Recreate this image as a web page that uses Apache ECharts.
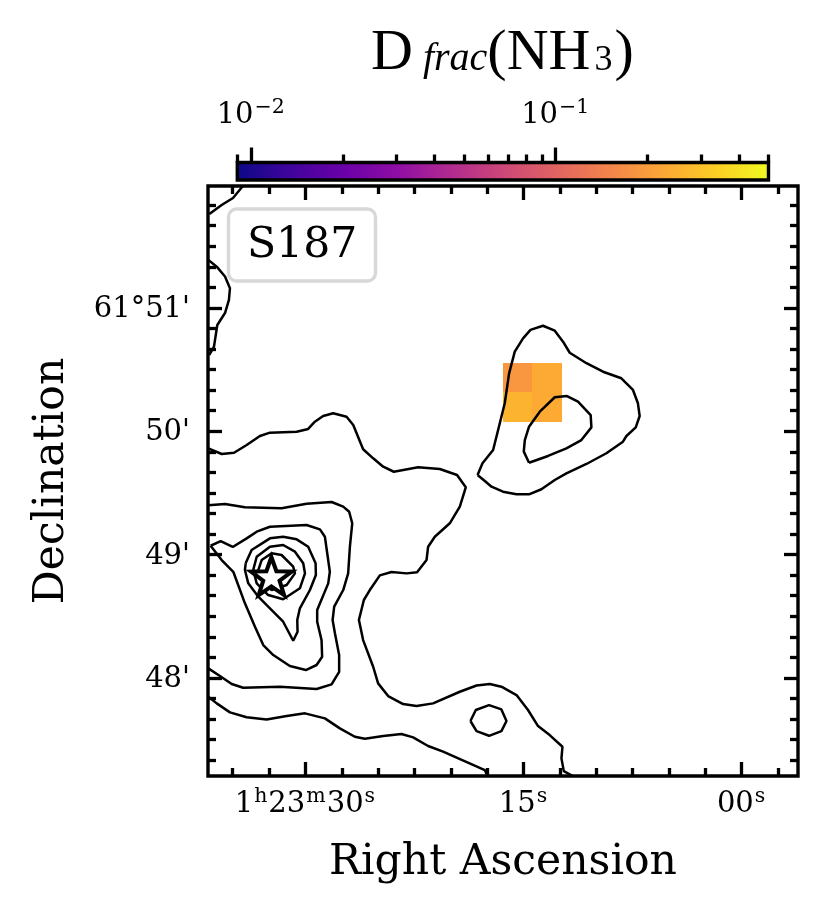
<!DOCTYPE html>
<html>
<head>
<meta charset="utf-8">
<title>S187</title>
<script src="https://cdn.jsdelivr.net/npm/echarts@6/dist/echarts.min.js"></script>
<style>html,body{margin:0;padding:0;background:#fff}#chart{width:829px;height:915px}</style>
</head>
<body>
<div id="chart"></div>
<script>
// axis ranges: right ascension in seconds past 1h23m, declination in arcmin past 61 deg
var raRange = [-3.88, 36.7];
var decRange = [47.205, 51.989];
var raMajor = [30, 15, 0];
var raMinor = [35, 32.5, 27.5, 25, 22.5, 20, 17.5, 12.5, 10, 7.5, 5, 2.5, -2.5];
var raLabels = ["{b|1}{s|h}{b|23}{s|m}{b|30}{s|s}", "{b|15}{s|s}", "{b|00}{s|s}"];
var decMajor = [51, 50, 49, 48];
var decMinor = [51.833, 51.667, 51.5, 51.333, 51.167, 50.833, 50.667, 50.5, 50.333, 50.167, 49.833, 49.667, 49.5, 49.333, 49.167,
    48.833, 48.667, 48.5, 48.333, 48.167, 47.833, 47.667, 47.5, 47.333];
var decLabels = ["61°51'", "50'", "49'", "48'"];

// colour bar
var cbarRange = [0.009, 0.5];
var cbarMajor = [0.01, 0.1];
var cbarMinor = [0.009, 0.02, 0.03, 0.04, 0.05, 0.06, 0.07, 0.08, 0.09, 0.2, 0.3, 0.4, 0.5];
var cbarLabels = ["{b|10}{s|−2}", "{b|10}{s|−1}"];
var plasma = ["#0d0887", "#41049d", "#6a00a8", "#8f0da4", "#b12a90", "#cc4778", "#e16462", "#f2844b", "#fca636", "#fcce25", "#f0f921"];

// Dfrac(NH3) pixels
var cellRa = [15.42, 13.37, 15.42, 13.37];
var cellDec = [50.436, 50.436, 50.197, 50.197];
var cellVal = [0.187, 0.232, 0.255, 0.232];
var cellW = 2.04, cellH = 0.24;

// contours, [ra, dec]
var contourA = [[18.16,49.646],[17.82,49.741],[17.09,49.848],[16.63,50.065],[16.29,50.227],[15.99,50.47],[15.6,50.646],[15.03,50.754],[14.52,50.822],[13.66,50.856],[12.85,50.816],[12.28,50.727],[11.82,50.637],[10.67,50.552],[9.53,50.483],[8.27,50.43],[7.47,50.335],[7.13,50.227],[7.01,50.124],[7.28,50.032],[7.92,49.962],[8.16,49.916],[9.3,49.822],[10.67,49.735],[12.05,49.659],[12.85,49.605],[13.77,49.53],[14.62,49.489],[15.48,49.489],[16.41,49.51],[17.2,49.551],[17.66,49.597],[18.16,49.646]];
var contourB = [[14.62,49.745],[14.98,49.835],[14.91,49.929],[14.62,50.037],[13.88,50.159],[12.85,50.276],[12.01,50.286],[11.25,50.24],[10.38,50.132],[10.33,50.032],[11.02,49.929],[12.05,49.862],[13.31,49.8],[14.62,49.745]];
var contourC = [[36.68,49.862],[35.76,49.816],[34.91,49.826],[34.04,49.889],[33.13,49.962],[32.44,49.989],[30.6,49.997],[29.81,50.019],[29.35,50.078],[28.78,50.124],[28.09,50.146],[27.17,50.118],[26.71,50.051],[26.03,49.854],[25.34,49.781],[24.65,49.713],[23.92,49.672],[22.25,49.708],[20.76,49.694],[19.57,49.646],[18.97,49.546],[19.38,49.389],[20.07,49.254],[21.1,49.145],[21.56,49.064],[21.67,48.956],[22.32,48.857],[23.04,48.848],[24.08,48.859],[24.88,48.832],[25.57,48.713],[25.98,48.632],[26.32,48.47],[26.03,48.307],[25.34,48.091],[25,47.956],[24.31,47.853],[23.28,47.788],[22.36,47.772],[21.22,47.794],[19.38,47.888],[18.23,47.939],[17.32,47.951],[16.52,47.929],[15.48,47.861],[14.69,47.74],[14,47.61],[13.2,47.537],[12.32,47.442],[12.39,47.348],[12.23,47.245],[11.61,47.205]];
var contourD = [[36.68,47.848],[36.1,47.794],[35.19,47.721],[34.04,47.681],[32.67,47.664],[31.29,47.691],[30.03,47.713],[28.66,47.672],[27.63,47.591],[26.6,47.523],[25.91,47.507],[24.65,47.529],[23.39,47.545],[22.59,47.518],[21.56,47.448],[20.53,47.402],[17.66,47.253],[17.5,47.21]];
var contourE = [[36.68,48.078],[35.88,48.016],[35.07,47.951],[34.28,47.921],[31.75,47.929],[29.23,47.91],[28.2,47.948],[27.68,48.05],[27.68,48.186],[27.97,48.362],[28.13,48.47],[28.02,48.578],[27.4,48.713],[27.06,48.848],[26.94,49.064],[26.78,49.254],[26.99,49.348],[27.4,49.389],[28.2,49.427],[29.92,49.413],[31.64,49.376],[34.16,49.384],[35.53,49.41],[36.68,49.4]];
var contourF = [[36.52,49.072],[35.83,49.11],[35,49.062],[34.04,49.132],[33.35,49.186],[32.44,49.226],[29.92,49.24],[29,49.205],[28.66,49.145],[28.32,48.861],[28.43,48.767],[29.19,48.551],[29.19,48.456],[28.89,48.307],[28.85,48.172],[29.23,48.105],[29.97,48.064],[31.07,48.097],[32.21,48.186],[32.9,48.267],[33.47,48.415],[34.16,48.605],[34.96,48.861],[35.76,48.956],[36.52,49.072]];
var contourG = [[34.11,48.93],[33.7,49.037],[32.44,49.132],[31.53,49.145],[30.6,49.124],[29.81,49.064],[29.3,48.93],[29.28,48.835],[29.69,48.713],[30.38,48.565],[30.56,48.47],[30.54,48.375],[30.84,48.302],[31.53,48.456],[32.44,48.565],[33.24,48.659],[33.93,48.767],[34.16,48.875],[34.11,48.93]];
var contourH = [[33.59,48.875],[33.35,48.983],[32.44,49.064],[31.53,49.078],[30.72,49.024],[30.15,48.93],[30.03,48.848],[30.38,48.727],[31.53,48.638],[32.56,48.672],[33.35,48.767],[33.59,48.875]];
var contourI = [[33.24,48.875],[33.01,48.956],[32.32,49.011],[31.64,48.997],[30.84,48.902],[30.72,48.848],[31.29,48.754],[32.32,48.713],[33.01,48.794],[33.24,48.875]];
var contourJ = [[18.65,47.651],[18.28,47.74],[17.37,47.78],[16.52,47.745],[16.17,47.651],[16.52,47.569],[17.37,47.531],[18.23,47.569],[18.65,47.651]];
var contourK = [[34.3,51.989],[34.98,51.892],[35.76,51.835],[36.61,51.762]];
var contourL = [[36.68,51.39],[36.1,51.335],[35.53,51.255],[35.19,51.16],[35.26,51.065],[35.53,50.959],[36.06,50.862],[36.29,50.686],[36.61,50.619]];
var contours = [contourA, contourB, contourC, contourD, contourE, contourF, contourG, contourH, contourI, contourJ, contourK, contourL];
var star = [[32.34, 48.826]];

var serif = "DejaVu Serif";
var mathSerif = "Liberation Serif";
var chart = echarts.init(document.getElementById("chart"));

function hexRgb(h) { return [parseInt(h.substr(1, 2), 16), parseInt(h.substr(3, 2), 16), parseInt(h.substr(5, 2), 16)]; }
function plasmaColor(v) {
    var t = (Math.log10(v) - Math.log10(cbarRange[0])) / (Math.log10(cbarRange[1]) - Math.log10(cbarRange[0]));
    var p = t * (plasma.length - 1), i = Math.min(Math.floor(p), plasma.length - 2), f = p - i;
    var a = hexRgb(plasma[i]), b = hexRgb(plasma[i + 1]);
    return "rgb(" + [0, 1, 2].map(function (k) { return Math.round(a[k] + (b[k] - a[k]) * f); }).join(",") + ")";
}

var tickRich = {
    b: { fontFamily: serif, fontSize: 29, color: "#000", lineHeight: 36, verticalAlign: "middle" },
    s: { fontFamily: serif, fontSize: 20.5, color: "#000", lineHeight: 20, verticalAlign: "top", padding: [0, 1, 0, 1] },
};

// one axis drawing only ticks (and labels when given) at custom values
function tickAxis(o) {
    var ax = {
        type: o.type || "value", gridIndex: o.grid || 0, position: o.pos, min: o.range[0], max: o.range[1], inverse: !!o.inverse,
        axisLine: { show: !1, onZero: !1 }, splitLine: { show: !1 },
        axisTick: { show: !!o.vals, inside: o.inside !== !1, length: o.len, customValues: o.vals, lineStyle: { color: "#000", width: 3.3 } },
        axisLabel: { show: !1 },
    };
    if (o.labels) {
        ax.axisLabel = {
            show: !0, margin: o.margin, customValues: o.vals, hideOverlap: !1, showMinLabel: !0, showMaxLabel: !0,
            padding: o.labelPad || 0,
            formatter: function (v) { return o.labels[o.vals.indexOf(v)]; },
            fontFamily: serif, fontSize: 29, color: "#000", rich: tickRich,
        };
    }
    if (o.name) {
        ax.name = o.name; ax.nameLocation = "middle"; ax.nameGap = o.nameGap;
        ax.nameTextStyle = { fontFamily: serif, fontSize: 42.5, color: "#000" };
    }
    return ax;
}

var series = [
    {
        type: "custom", coordinateSystem: "cartesian2d", xAxisIndex: 0, yAxisIndex: 0, z: 1,
        data: cellRa.map(function (r, i) { return [r, cellDec[i], cellVal[i]]; }),
        renderItem: function (params, api) {
            var a = api.coord([api.value(0) + cellW / 2, api.value(1) + cellH / 2]);
            var b = api.coord([api.value(0) - cellW / 2, api.value(1) - cellH / 2]);
            var x = Math.round(a[0]), y = Math.round(a[1]);
            return { type: "rect", shape: { x: x, y: y, width: Math.round(b[0]) - x, height: Math.round(b[1]) - y }, style: { fill: plasmaColor(api.value(2)) } };
        },
    },
    {
        type: "custom", coordinateSystem: "cartesian2d", xAxisIndex: 4, yAxisIndex: 4, z: 1,
        data: [[cbarRange[0], 0, cbarRange[1], 1]],
        encode: { x: [0, 2], y: [1, 3] },
        renderItem: function (params, api) {
            var a = api.coord([api.value(0), api.value(3)]);
            var b = api.coord([api.value(2), api.value(1)]);
            var stops = plasma.map(function (c, i) { return { offset: i / (plasma.length - 1), color: c }; });
            return { type: "rect", shape: { x: a[0], y: a[1], width: b[0] - a[0], height: b[1] - a[1] }, style: { fill: new echarts.graphic.LinearGradient(0, 0, 1, 0, stops) } };
        },
    },
    {
        type: "scatter", xAxisIndex: 0, yAxisIndex: 0, z: 4, data: star, symbolSize: [41, 38],
        symbol: "path://M0,-10L2.35,-3.24L9.51,-3.09L3.8,1.24L5.88,8.09L0,4L-5.88,8.09L-3.8,1.24L-9.51,-3.09L-2.35,-3.24Z",
        itemStyle: { color: "#fff", borderColor: "#000", borderWidth: 4, opacity: 1 },
    },
];
contours.forEach(function (c) {
    series.push({ type: "line", xAxisIndex: 0, yAxisIndex: 0, z: 3, data: c, showSymbol: !1, symbol: "none", smooth: !1, clip: !0, lineStyle: { color: "#000", width: 2.5 } });
});

var option = {
    animation: !1,
    backgroundColor: "#fff",
    title: [
        {
            left: 366, top: 24,
            text: "{d|D}{f|frac}{d|(NH}{n|3}{d|)}",
            textStyle: {
                fontWeight: "normal",
                rich: {
                    d: { fontFamily: mathSerif, fontSize: 58, fontWeight: "normal", color: "#000", lineHeight: 50, verticalAlign: "middle" },
                    f: { fontFamily: mathSerif, fontSize: 40, fontWeight: "normal", fontStyle: "italic", color: "#000", lineHeight: 20, verticalAlign: "bottom", padding: [0, 0, 0, 10] },
                    n: { fontFamily: mathSerif, fontSize: 36, fontWeight: "normal", color: "#000", lineHeight: 20, verticalAlign: "bottom", padding: [0, 2, 0, 4] },
                },
            },
        },
        {
            left: 228.5, top: 208.5, padding: [15, 18.5, 14, 18.5],
            text: "S187",
            backgroundColor: "#fff", borderColor: "#d8d8d8", borderWidth: 3.4, borderRadius: 8,
            textStyle: { fontFamily: serif, fontSize: 42.5, fontWeight: "normal", color: "#000", lineHeight: 44 },
        },
    ],
    grid: [
        { left: 208, top: 186, width: 590, height: 590, show: !0, borderColor: "#000", borderWidth: 3.4, backgroundColor: "transparent" },
        { left: 237.3, top: 162.5, width: 531.2, height: 17.5, show: !0, borderColor: "#000", borderWidth: 3.4, backgroundColor: "transparent", z: 5 },
    ],
    xAxis: [
        tickAxis({ pos: "bottom", range: raRange, inverse: !0, vals: raMajor, len: 14, labels: raLabels, margin: 10, name: "Right Ascension", nameGap: 65 }),
        tickAxis({ pos: "bottom", range: raRange, inverse: !0, vals: raMinor, len: 8 }),
        tickAxis({ pos: "top", range: raRange, inverse: !0, vals: raMajor, len: 14 }),
        tickAxis({ pos: "top", range: raRange, inverse: !0, vals: raMinor, len: 8 }),
        tickAxis({ type: "log", grid: 1, pos: "top", range: cbarRange, vals: cbarMajor, len: 15, inside: !1, labels: cbarLabels, margin: 29 }),
        tickAxis({ type: "log", grid: 1, pos: "top", range: cbarRange, vals: cbarMinor, len: 8, inside: !1 }),
    ],
    yAxis: [
        tickAxis({ pos: "left", range: decRange, vals: decMajor, len: 14, labels: decLabels, labelPad: [3, 0, 0, 0], margin: 18, name: "Declination", nameGap: 135 }),
        tickAxis({ pos: "left", range: decRange, vals: decMinor, len: 8 }),
        tickAxis({ pos: "right", range: decRange, vals: decMajor, len: 14 }),
        tickAxis({ pos: "right", range: decRange, vals: decMinor, len: 8 }),
        tickAxis({ grid: 1, pos: "left", range: [0, 1] }),
    ],
    series: series,
};
chart.setOption(option);
</script>
</body>
</html>
